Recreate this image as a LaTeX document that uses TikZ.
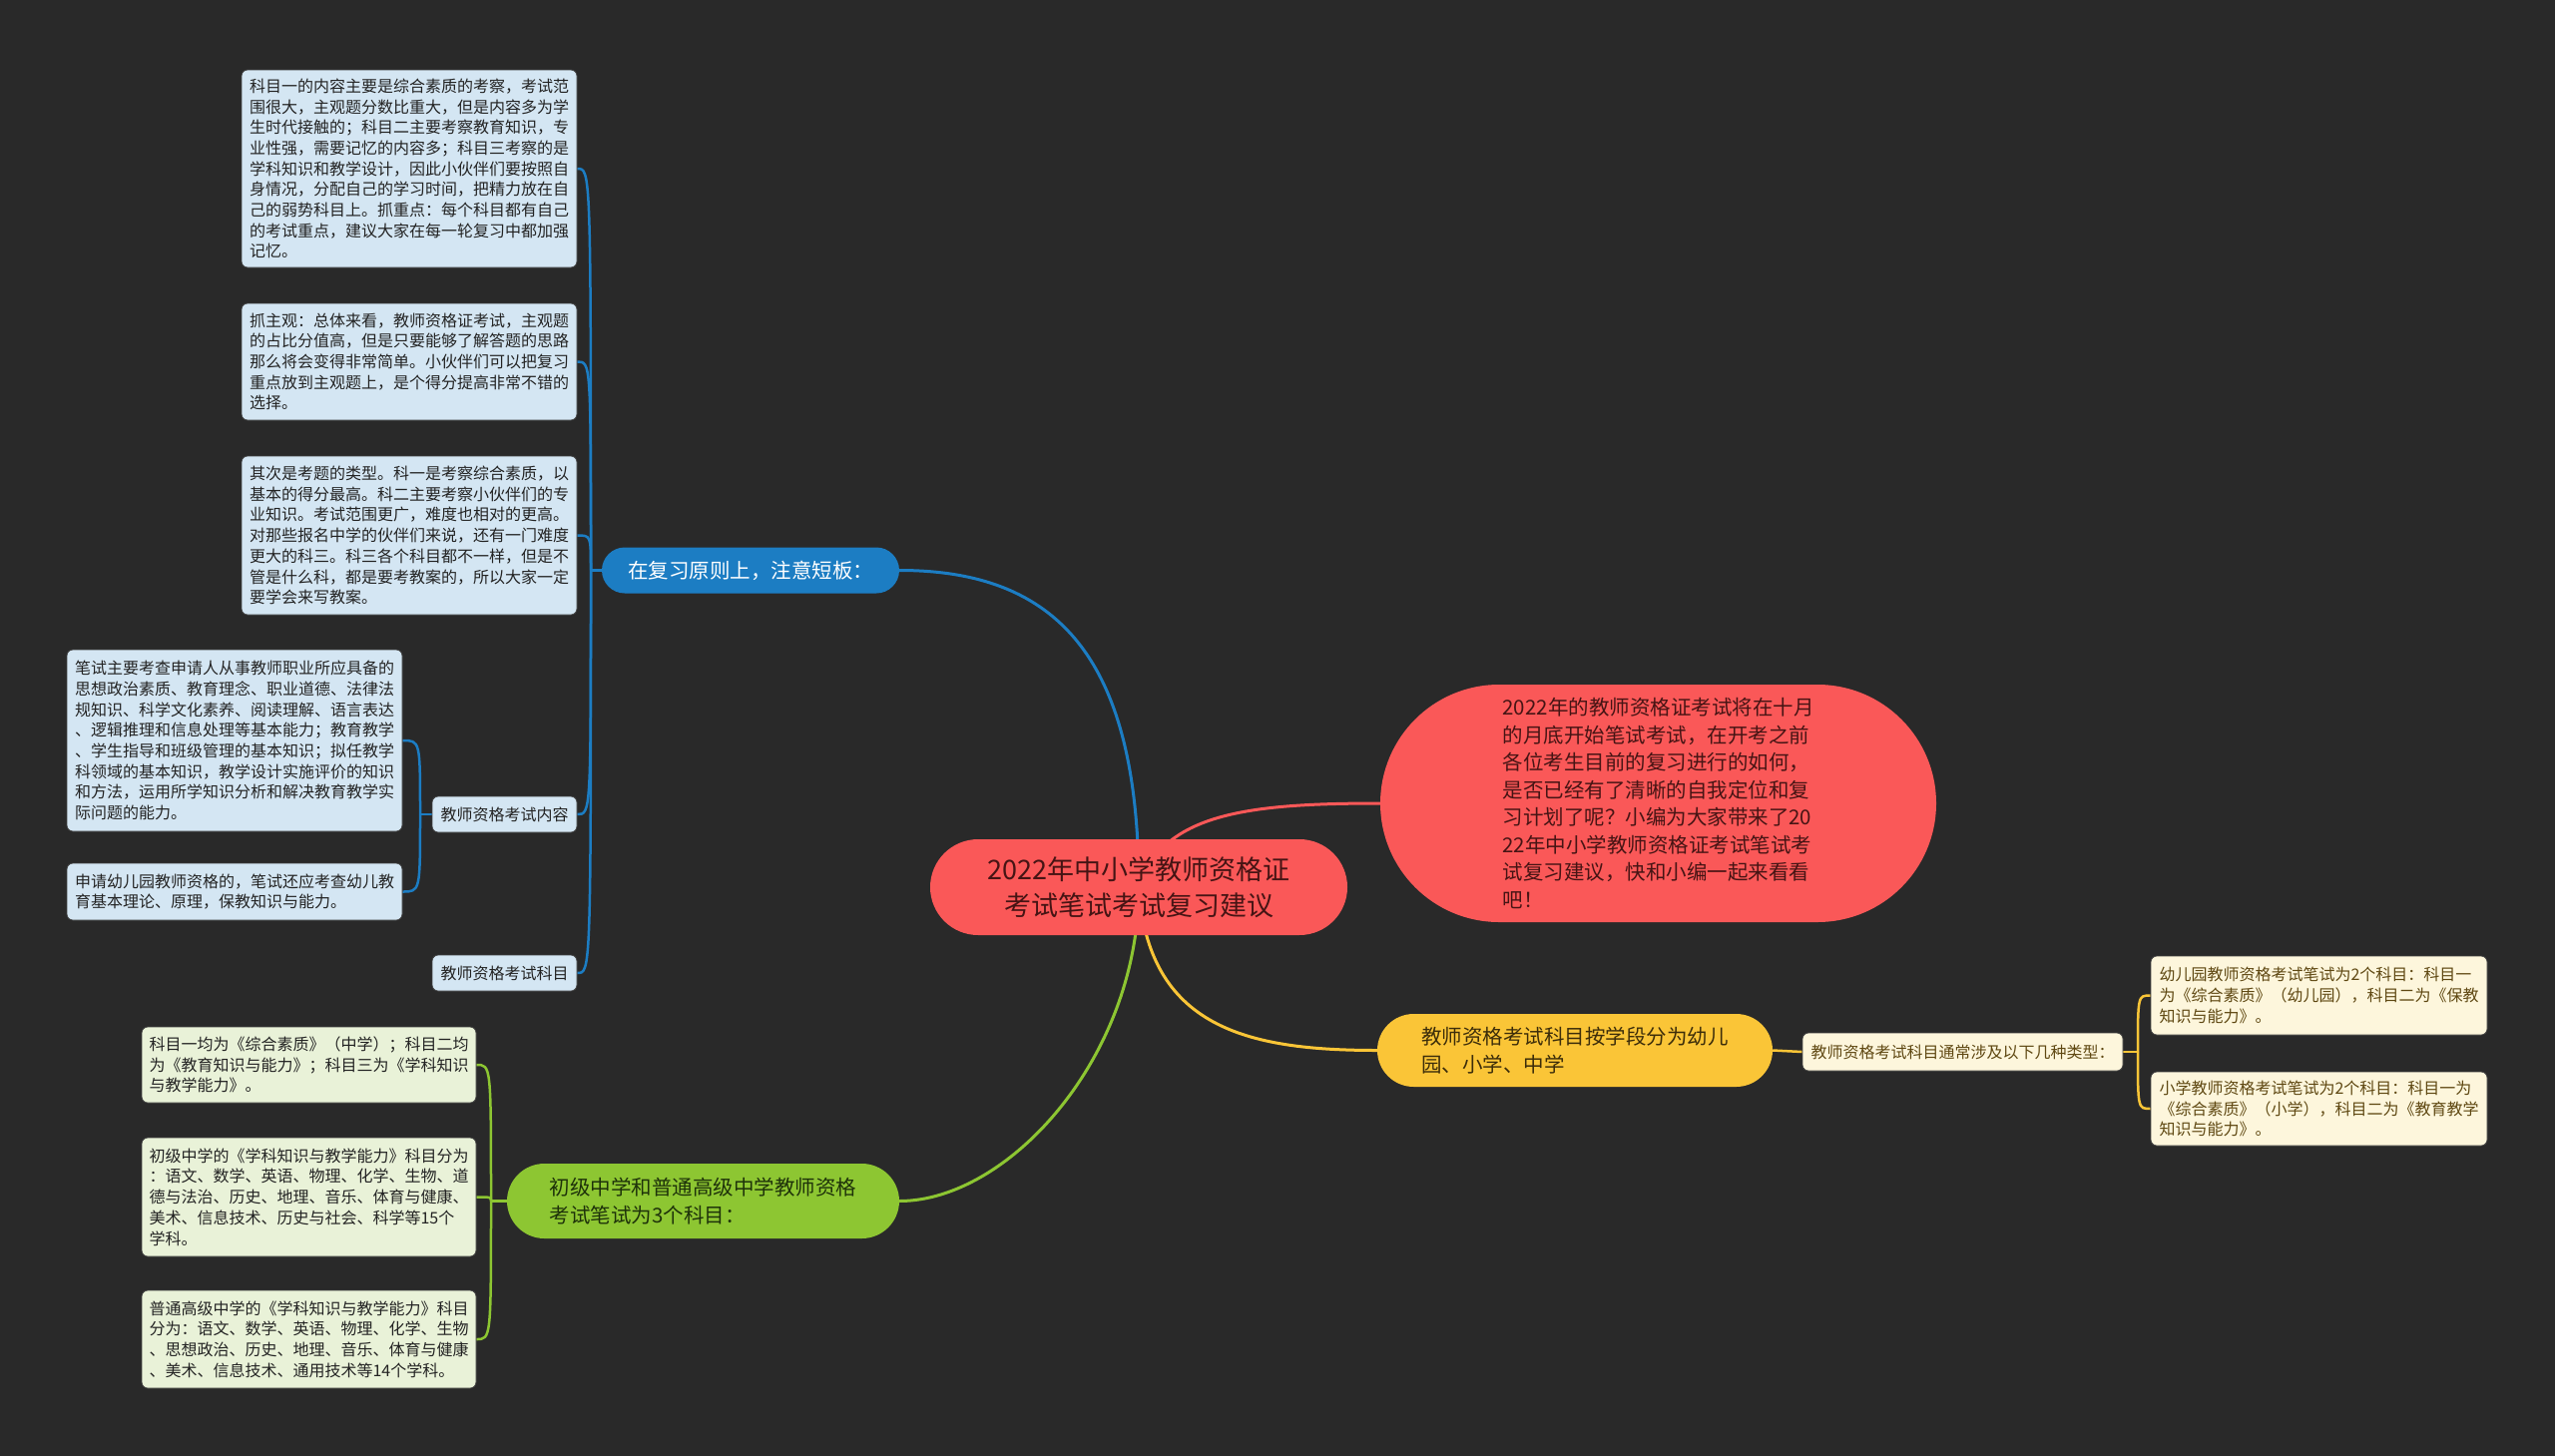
\documentclass[tikz,border=0pt]{standalone}
\usepackage{fontspec}
\setmainfont{Noto Sans CJK SC}
\usetikzlibrary{shapes.misc}
\definecolor{bgc}{RGB}{41,41,41}
\definecolor{bluec}{RGB}{28,125,195}
\definecolor{redc}{RGB}{250,88,88}
\definecolor{yelc}{RGB}{250,197,55}
\definecolor{grnc}{RGB}{141,198,50}
\definecolor{bleafc}{RGB}{212,230,243}
\definecolor{gleafc}{RGB}{233,242,216}
\definecolor{yleafc}{RGB}{253,246,220}
\definecolor{leaftxt}{RGB}{35,35,35}
\definecolor{ytxt}{RGB}{95,72,18}
\definecolor{redtxt}{RGB}{70,20,20}
\definecolor{yeltxt}{RGB}{60,45,10}
\definecolor{grntxt}{RGB}{30,50,10}
\pgfdeclarelayer{bglayer}
\pgfsetlayers{bglayer,main}
\tikzset{
  leaf/.style={rectangle, rounded corners=6pt, inner sep=0pt, align=left,
    font=\fontsize{16}{20.7}\selectfont, draw=black!75, line width=0.8pt},
  bleaf/.style={leaf, fill=bleafc, text=leaftxt},
  gleaf/.style={leaf, fill=gleafc, text=leaftxt},
  yleaf/.style={leaf, fill=yleafc, text=ytxt},
  pill/.style={rounded rectangle, inner sep=0pt, align=left,
    font=\fontsize{20.5}{27.5}\selectfont},
  conn/.style={line width=3pt},
  subc/.style={line width=2.5pt},
}
\begin{document}
\begin{tikzpicture}[x=1pt,y=-1pt]
\useasboundingbox (0,0) rectangle (2560,1459);
% central
\node[pill, fill=redc, text=redtxt, align=center, font=\fontsize{27}{36}\selectfont,
  minimum width=418pt, minimum height=96pt] (C) at (1141,889)
  {2022年中小学教师资格证\\考试笔试考试复习建议};
% intro
\node[pill, fill=redc, text=redtxt, minimum width=557pt, minimum height=238pt] (R) at (1661.5,805)
  {2022年的教师资格证考试将在十月\\的月底开始笔试考试，在开考之前\\各位考生目前的复习进行的如何，\\是否已经有了清晰的自我定位和复\\习计划了呢？小编为大家带来了20\\22年中小学教师资格证考试笔试考\\试复习建议，快和小编一起来看看\\吧！};
% branches
\node[pill, fill=bluec, text=white, minimum width=298pt, minimum height=46pt] (B) at (752,571.5)
  {在复习原则上，注意短板：};
\node[pill, fill=grnc, text=grntxt, minimum width=393pt, minimum height=75pt] (G) at (704.5,1203.5)
  {初级中学和普通高级中学教师资格\\考试笔试为3个科目：};
\node[pill, fill=yelc, text=yeltxt, minimum width=396pt, minimum height=73pt] (Y) at (1578,1052.5)
  {教师资格考试科目按学段分为幼儿\\园、小学、中学};
% blue leaves
\node[bleaf, minimum width=336pt, minimum height=198pt] (L1) at (410,169)
  {科目一的内容主要是综合素质的考察，考试范\\围很大，主观题分数比重大，但是内容多为学\\生时代接触的；科目二主要考察教育知识，专\\业性强，需要记忆的内容多；科目三考察的是\\学科知识和教学设计，因此小伙伴们要按照自\\身情况，分配自己的学习时间，把精力放在自\\己的弱势科目上。抓重点：每个科目都有自己\\的考试重点，建议大家在每一轮复习中都加强\\记忆。};
\node[bleaf, minimum width=336pt, minimum height=117pt] (L2) at (410,362.5)
  {抓主观：总体来看，教师资格证考试，主观题\\的占比分值高，但是只要能够了解答题的思路\\那么将会变得非常简单。小伙伴们可以把复习\\重点放到主观题上，是个得分提高非常不错的\\选择。};
\node[bleaf, minimum width=336pt, minimum height=159pt] (L3) at (410,536.5)
  {其次是考题的类型。科一是考察综合素质，以\\基本的得分最高。科二主要考察小伙伴们的专\\业知识。考试范围更广，难度也相对的更高。\\对那些报名中学的伙伴们来说，还有一门难度\\更大的科三。科三各个科目都不一样，但是不\\管是什么科，都是要考教案的，所以大家一定\\要学会来写教案。};
\node[bleaf, minimum width=145pt, minimum height=36pt] (L4) at (505.5,816) {教师资格考试内容};
\node[bleaf, minimum width=145pt, minimum height=36pt] (L5) at (505.5,975) {教师资格考试科目};
\node[bleaf, minimum width=336pt, minimum height=182pt] (Sa) at (235,742)
  {笔试主要考查申请人从事教师职业所应具备的\\思想政治素质、教育理念、职业道德、法律法\\规知识、科学文化素养、阅读理解、语言表达\\、逻辑推理和信息处理等基本能力；教育教学\\、学生指导和班级管理的基本知识；拟任教学\\科领域的基本知识，教学设计实施评价的知识\\和方法，运用所学知识分析和解决教育教学实\\际问题的能力。};
\node[bleaf, minimum width=336pt, minimum height=57pt] (Sb) at (235,893.5)
  {申请幼儿园教师资格的，笔试还应考查幼儿教\\育基本理论、原理，保教知识与能力。};
% green leaves
\node[gleaf, minimum width=335pt, minimum height=76pt] (G1) at (309.5,1067)
  {科目一均为《综合素质》（中学）；科目二均\\为《教育知识与能力》；科目三为《学科知识\\与教学能力》。};
\node[gleaf, minimum width=335pt, minimum height=119pt] (G2) at (309.5,1199.5)
  {初级中学的《学科知识与教学能力》科目分为\\：语文、数学、英语、物理、化学、生物、道\\德与法治、历史、地理、音乐、体育与健康、\\美术、信息技术、历史与社会、科学等15个\\学科。};
\node[gleaf, minimum width=335pt, minimum height=98pt] (G3) at (309.5,1342)
  {普通高级中学的《学科知识与教学能力》科目\\分为：语文、数学、英语、物理、化学、生物\\、思想政治、历史、地理、音乐、体育与健康\\、美术、信息技术、通用技术等14个学科。};
% yellow
\node[yleaf, minimum width=321pt, minimum height=38pt] (YS) at (1966.5,1054)
  {教师资格考试科目通常涉及以下几种类型：};
\node[yleaf, minimum width=337pt, minimum height=79pt] (Y1) at (2323.5,997.5)
  {幼儿园教师资格考试笔试为2个科目：科目一\\为《综合素质》（幼儿园），科目二为《保教\\知识与能力》。};
\node[yleaf, minimum width=337pt, minimum height=74pt] (Y2) at (2323.5,1111)
  {小学教师资格考试笔试为2个科目：科目一为\\《综合素质》（小学），科目二为《教育教学\\知识与能力》。};
% connectors
\begin{pgfonlayer}{bglayer}
\fill[bgc] (0,0) rectangle (2560,1459);
\draw[conn, bluec] (C.center) .. controls (1141,660) and (1060,571.5) .. (B.east);
\draw[conn, redc] (C.center) .. controls (1165,815) and (1250,805) .. (R.west);
\draw[conn, yelc] (C.center) .. controls (1150,1030) and (1250,1052.5) .. (Y.west);
\draw[conn, grnc] (C.center) .. controls (1141,1060) and (1010,1203.5) .. (G.east);
\coordinate (JB) at (592,571.5);
\draw[subc, bluec] (B.west) -- (JB);
\foreach \n in {L1,L2,L3,L4,L5}
  \draw[subc, bluec] (JB) .. controls (JB |- \n.east) and (JB |- \n.east) .. (\n.east);
\coordinate (J4) at (421,816);
\draw[subc, bluec] (L4.west) -- (J4);
\foreach \n in {Sa,Sb}
  \draw[subc, bluec] (J4) .. controls (J4 |- \n.east) and (J4 |- \n.east) .. (\n.east);
\coordinate (JG) at (492,1203.5);
\draw[subc, grnc] (G.west) -- (JG);
\foreach \n in {G1,G2,G3}
  \draw[subc, grnc] (JG) .. controls (JG |- \n.east) and (JG |- \n.east) .. (\n.east);
\draw[subc, yelc] (Y.east) -- (YS.west);
\coordinate (JY) at (2142,1054);
\draw[subc, yelc] (YS.east) -- (JY);
\foreach \n in {Y1,Y2}
  \draw[subc, yelc] (JY) .. controls (JY |- \n.west) and (JY |- \n.west) .. (\n.west);
\end{pgfonlayer}
\end{tikzpicture}
\end{document}
